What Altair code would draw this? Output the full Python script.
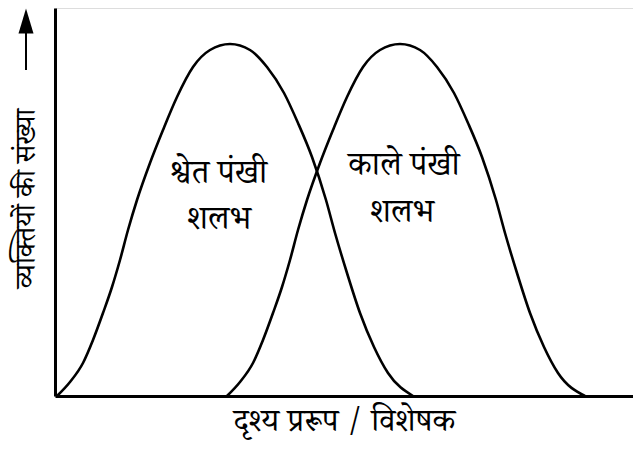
import altair as alt
import pandas as pd

# Curve 1: white-winged moths (x = trait, y = number of individuals)
white_x = [2, 15, 28, 38, 48, 57, 65, 73, 82, 95, 108, 122, 138, 155, 175,
           195, 212, 229, 243, 257, 271, 280, 292, 305, 319, 333, 358]
white_y = [0, 14, 33, 56, 83, 109, 136, 166, 196, 233, 266, 299, 329, 346, 352,
           346, 329, 303, 273, 239, 196, 163, 123, 83, 49, 23, 0]

# Curve 2: black-winged moths
black_x = [172, 185, 198, 208, 218, 227, 235, 243, 252, 265, 278, 292, 308, 325, 345,
           365, 382, 399, 413, 427, 441, 450, 462, 475, 489, 503, 530]
black_y = [0, 14, 33, 56, 83, 109, 136, 166, 196, 233, 266, 299, 329, 346, 352,
           346, 329, 303, 273, 239, 196, 163, 123, 83, 49, 23, 0]

# Curve labels
label_text = ["श्वेत पंखी", "शलभ", "काले पंखी", "शलभ"]
label_x = [163, 164, 349, 347]
label_y = [223, 177, 231, 184]

# Arrow beside the y-axis title
arrow_x = [-29]
arrow_y0 = [326]
arrow_y1 = [366]
arrow_head_y = [375]

x_title = "दृश्य प्ररूप / विशेषक"
y_title = "व्यक्तियों की संख्या"

FONT = "Noto Serif Devanagari, FreeSerif, Lohit Devanagari, serif"

curves = pd.DataFrame({
    "x": white_x + black_x,
    "y": white_y + black_y,
    "series": ["white"] * len(white_x) + ["black"] * len(black_x),
})
labels = pd.DataFrame({"x": label_x, "y": label_y, "t": label_text})
arrow = pd.DataFrame({"x": arrow_x, "y0": arrow_y0, "y1": arrow_y1, "yh": arrow_head_y})

xs = alt.Scale(domain=[0, 578], nice=False, zero=False)
ys = alt.Scale(domain=[0, 388], nice=False, zero=False)

lines = alt.Chart(curves).mark_line(
    color="black", strokeWidth=2.6, interpolate="monotone"
).encode(
    x=alt.X("x:Q", scale=xs, axis=alt.Axis(
        title=x_title, labels=False, ticks=False, grid=False,
        domainColor="black", domainWidth=3,
        titleFont=FONT, titleFontSize=32, titleFontWeight="normal", titleColor="black",
        titleX=289, titleY=24, titleAlign="center", titleBaseline="middle",
    )),
    y=alt.Y("y:Q", scale=ys, axis=alt.Axis(
        title=y_title, labels=False, ticks=False, grid=False,
        domainColor="black", domainWidth=3,
        titleFont=FONT, titleFontSize=28, titleFontWeight="normal", titleColor="black",
        titleAngle=-90, titleX=-29, titleY=190, titleAlign="center", titleBaseline="middle",
    )),
    detail="series:N",
)

text = alt.Chart(labels).mark_text(
    font=FONT, fontSize=33, color="black", align="center", baseline="middle"
).encode(
    x=alt.X("x:Q", scale=xs),
    y=alt.Y("y:Q", scale=ys),
    text="t:N",
)

shaft = alt.Chart(arrow).mark_rule(color="black", strokeWidth=2).encode(
    x=alt.X("x:Q", scale=xs),
    y=alt.Y("y0:Q", scale=ys),
    y2="y1:Q",
)

head = alt.Chart(arrow).mark_point(
    shape="M -0.6 1 L 0 -1 L 0.6 1 Z", filled=True, color="black", opacity=1, size=625,
).encode(
    x=alt.X("x:Q", scale=xs),
    y=alt.Y("yh:Q", scale=ys),
)

chart = alt.layer(lines, text, shaft, head).properties(
    width=578, height=388,
    autosize=alt.AutoSizeParams(type="none"),
    padding={"left": 47, "top": 0, "right": 0, "bottom": 45},
).configure_view(stroke=None).configure(background="white")

chart.save("out.html", embed_options={"renderer": "svg", "actions": False})
